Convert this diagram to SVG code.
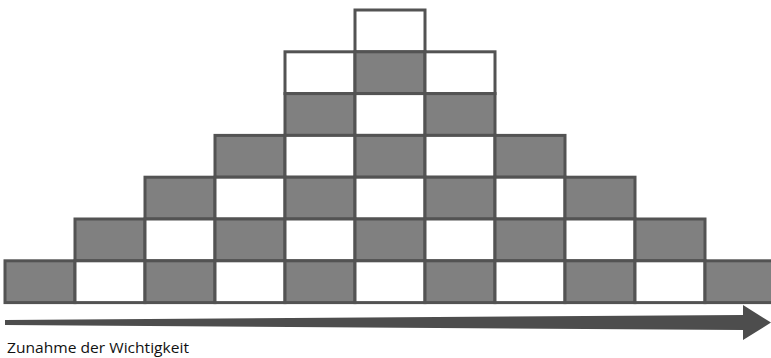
<svg xmlns="http://www.w3.org/2000/svg" width="771" height="358" viewBox="0 0 771 358">
<style>
.c{stroke:#535353;stroke-width:3}
.g{fill:#808080}
.w{fill:#ffffff}
.lbl{font-family:"Open Sans","Liberation Sans",sans-serif;font-size:15px;fill:#111111}
</style>
<rect width="771" height="358" fill="#ffffff"/>
<g id="row0">
<g id="r0c5"><rect class="c w" x="355" y="10" width="70" height="41.8"/></g>
</g>
<g id="row1">
<g id="r1c4"><rect class="c w" x="285" y="51.8" width="70" height="41.8"/></g>
<g id="r1c5"><rect class="c g" x="355" y="51.8" width="70" height="41.8"/></g>
<g id="r1c6"><rect class="c w" x="425" y="51.8" width="70" height="41.8"/></g>
</g>
<g id="row2">
<g id="r2c4"><rect class="c g" x="285" y="93.6" width="70" height="41.8"/></g>
<g id="r2c5"><rect class="c w" x="355" y="93.6" width="70" height="41.8"/></g>
<g id="r2c6"><rect class="c g" x="425" y="93.6" width="70" height="41.8"/></g>
</g>
<g id="row3">
<g id="r3c3"><rect class="c g" x="215" y="135.4" width="70" height="41.8"/></g>
<g id="r3c4"><rect class="c w" x="285" y="135.4" width="70" height="41.8"/></g>
<g id="r3c5"><rect class="c g" x="355" y="135.4" width="70" height="41.8"/></g>
<g id="r3c6"><rect class="c w" x="425" y="135.4" width="70" height="41.8"/></g>
<g id="r3c7"><rect class="c g" x="495" y="135.4" width="70" height="41.8"/></g>
</g>
<g id="row4">
<g id="r4c2"><rect class="c g" x="145" y="177.2" width="70" height="41.8"/></g>
<g id="r4c3"><rect class="c w" x="215" y="177.2" width="70" height="41.8"/></g>
<g id="r4c4"><rect class="c g" x="285" y="177.2" width="70" height="41.8"/></g>
<g id="r4c5"><rect class="c w" x="355" y="177.2" width="70" height="41.8"/></g>
<g id="r4c6"><rect class="c g" x="425" y="177.2" width="70" height="41.8"/></g>
<g id="r4c7"><rect class="c w" x="495" y="177.2" width="70" height="41.8"/></g>
<g id="r4c8"><rect class="c g" x="565" y="177.2" width="70" height="41.8"/></g>
</g>
<g id="row5">
<g id="r5c1"><rect class="c g" x="75" y="219" width="70" height="41.8"/></g>
<g id="r5c2"><rect class="c w" x="145" y="219" width="70" height="41.8"/></g>
<g id="r5c3"><rect class="c g" x="215" y="219" width="70" height="41.8"/></g>
<g id="r5c4"><rect class="c w" x="285" y="219" width="70" height="41.8"/></g>
<g id="r5c5"><rect class="c g" x="355" y="219" width="70" height="41.8"/></g>
<g id="r5c6"><rect class="c w" x="425" y="219" width="70" height="41.8"/></g>
<g id="r5c7"><rect class="c g" x="495" y="219" width="70" height="41.8"/></g>
<g id="r5c8"><rect class="c w" x="565" y="219" width="70" height="41.8"/></g>
<g id="r5c9"><rect class="c g" x="635" y="219" width="70" height="41.8"/></g>
</g>
<g id="row6">
<g id="r6c0"><rect class="c g" x="5" y="260.8" width="70" height="41.8"/></g>
<g id="r6c1"><rect class="c w" x="75" y="260.8" width="70" height="41.8"/></g>
<g id="r6c2"><rect class="c g" x="145" y="260.8" width="70" height="41.8"/></g>
<g id="r6c3"><rect class="c w" x="215" y="260.8" width="70" height="41.8"/></g>
<g id="r6c4"><rect class="c g" x="285" y="260.8" width="70" height="41.8"/></g>
<g id="r6c5"><rect class="c w" x="355" y="260.8" width="70" height="41.8"/></g>
<g id="r6c6"><rect class="c g" x="425" y="260.8" width="70" height="41.8"/></g>
<g id="r6c7"><rect class="c w" x="495" y="260.8" width="70" height="41.8"/></g>
<g id="r6c8"><rect class="c g" x="565" y="260.8" width="70" height="41.8"/></g>
<g id="r6c9"><rect class="c w" x="635" y="260.8" width="70" height="41.8"/></g>
<g id="r6c10"><rect class="c g" x="705" y="260.8" width="70" height="41.8"/></g>
</g>
<g id="arrow">
<polygon points="5,320 743,315 743,305 771,322.5 743,340 743,330 5,325" fill="#4d4d4d"/>
</g>
<g id="label">
<text class="lbl" x="7" y="353" textLength="182" lengthAdjust="spacingAndGlyphs">Zunahme der Wichtigkeit</text>
</g>
</svg>
